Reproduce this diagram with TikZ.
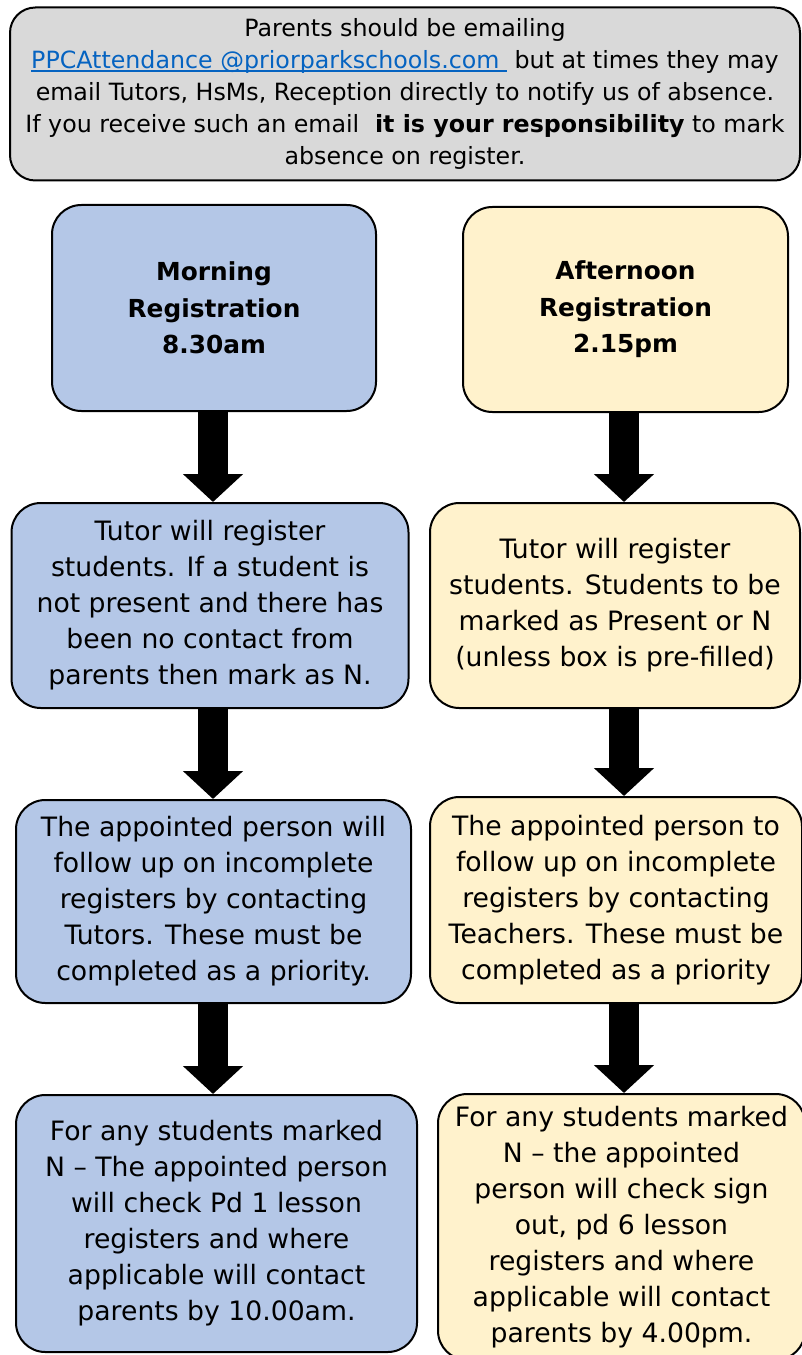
\documentclass[tikz,border=0pt]{standalone}
\usepackage{fontspec}
\setmainfont{DejaVu Sans}
\usetikzlibrary{arrows.meta}
\definecolor{mornblue}{HTML}{B4C7E7}
\definecolor{aftyellow}{HTML}{FFF2CC}
\definecolor{notegrey}{HTML}{D9D9D9}
\definecolor{linkblue}{HTML}{0563C1}
\newdimen\px \px=0.75pt
\newcommand\linktext[1]{{\color{linkblue}\setbox0\hbox{#1}\rlap{\rule[-2.5pt]{\wd0}{1.1pt}}\box0}}
\begin{document}
\begin{tikzpicture}[x=0.75pt, y=-0.75pt,
        box/.style={draw=black, line width=1.5pt, rounded corners=22pt, align=center, inner sep=0pt, font=\fontsize{20}{27}\selectfont},
        morning/.style={box, fill=mornblue},
        afternoon/.style={box, fill=aftyellow},
        heading/.style={font=\fontsize{18.6}{27.4}\selectfont\bfseries},
        bigarrow/.style={line width=22pt, -{Triangle[length=21pt, width=44pt]}}]
    \useasboundingbox (0,0) rectangle (801,1355);
    \node
        [box, fill=notegrey, rounded corners=19pt, minimum width=790\px, minimum height=173\px, font=\fontsize{17.8}{24}\selectfont] (note) at (405,94)
        {Parents should be emailing\\
        \linktext{PPCAttendance @priorparkschools.com\ } but at times they may\\
        email Tutors, HsMs, Reception directly to notify us of absence.\\
        If you receive such an email \textbf{ it is your responsibility} to mark\\
        absence on register.};
    \node
        [morning, heading, minimum width=324\px, minimum height=206\px] (morn) at (214,308)
        {Morning\\ Registration\\ 8.30am};
    \node
        [afternoon, heading, minimum width=325\px, minimum height=205\px] (aft) at (625.5,309.5)
        {Afternoon\\ Registration\\ 2.15pm};
    \node
        [morning, minimum width=397\px, minimum height=205\px] (mTutor) at (210,605.5)
        {Tutor will register\\ students. If a student is\\ not present and there has\\ been no contact from\\ parents then mark as N.};
    \node
        [afternoon, minimum width=370\px, minimum height=205\px] (aTutor) at (615,605.5)
        {Tutor will register\\ students. Students to be\\ marked as Present or N\\ (unless box is pre-filled)};
    \node
        [morning, minimum width=395\px, minimum height=203\px] (mFollow) at (213.5,901.5)
        {The appointed person will\\ follow up on incomplete\\ registers by contacting\\ Tutors. These must be\\ completed as a priority.};
    \node
        [afternoon, minimum width=372\px, minimum height=206\px] (aFollow) at (616,900)
        {The appointed person to\\ follow up on incomplete\\ registers by contacting\\ Teachers. These must be\\ completed as a priority};
    \node
        [morning, minimum width=401\px, minimum height=257\px] (mCheck) at (216.5,1223.5)
        {For any students marked\\ N -- The appointed person\\ will check Pd 1 lesson\\ registers and where\\ applicable will contact\\ parents by 10.00am.};
    \node
        [afternoon, minimum width=367\px, minimum height=266\px] (aCheck) at (621.5,1227)
        {For any students marked\\ N -- the appointed\\ person will check sign\\ out, pd 6 lesson\\ registers and where\\ applicable will contact\\ parents by 4.00pm.};
    \draw
        [bigarrow] (213,410) coordinate (m1) -- (m1 |- mTutor.north);
    \draw
        [bigarrow] (624,411) coordinate (a1) -- (a1 |- aTutor.north);
    \draw
        [bigarrow] (m1 |- mTutor.south) -- (m1 |- mFollow.north);
    \draw
        [bigarrow] (a1 |- aTutor.south) -- (a1 |- aFollow.north);
    \draw
        [bigarrow] (m1 |- mFollow.south) -- (m1 |- mCheck.north);
    \draw
        [bigarrow] (a1 |- aFollow.south) -- (a1 |- aCheck.north);
\end{tikzpicture}
\end{document}
